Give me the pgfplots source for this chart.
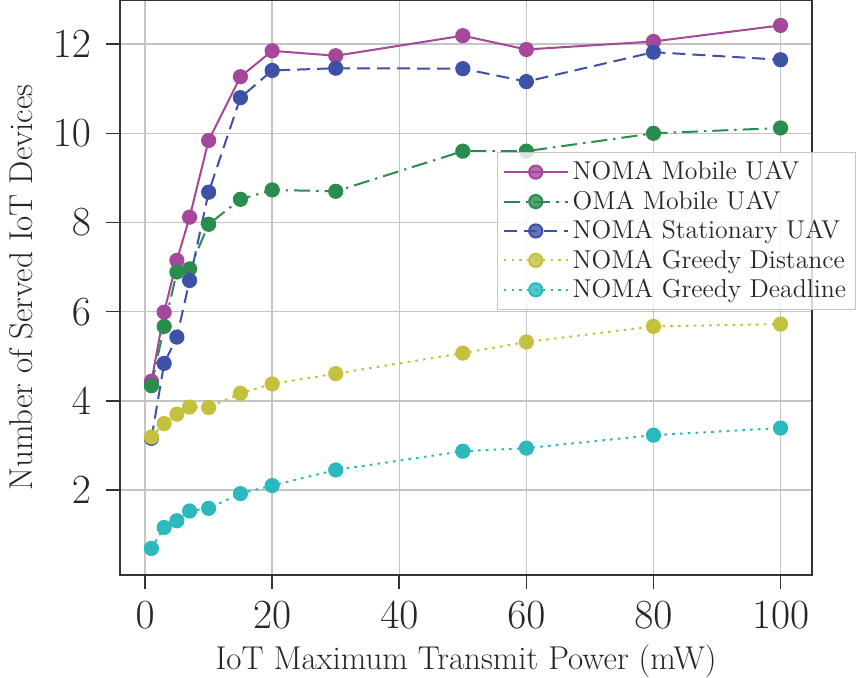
\documentclass[border=0pt]{standalone}
\usepackage{pgfplots}
\pgfplotsset{compat=1.18}
\definecolor{cpurple}{HTML}{A5489B}
\definecolor{cgreen}{HTML}{2A8C4D}
\definecolor{cblue}{HTML}{3D51A6}
\definecolor{cyellow}{HTML}{C4C13E}
\definecolor{ccyan}{HTML}{2CB9BE}
\definecolor{spine}{HTML}{333333}
\definecolor{gridc}{HTML}{C4C4C4}

\pgfplotstableread{
x  nmob  omob  nsta  gdis  gdead
1   4.44  4.34  3.16  3.19  0.69
3   5.99  5.67  4.84  3.49  1.16
5   7.15  6.89  5.43  3.70  1.31
7   8.12  6.96  6.70  3.86  1.53
10  9.84  7.96  8.68  3.85  1.59
15  11.27 8.52  10.80 4.17  1.92
20  11.85 8.73  11.41 4.38  2.10
30  11.74 8.70  11.46 4.61  2.45
50  12.19 9.60  11.45 5.07  2.87
60  11.88 9.60  11.16 5.32  2.94
80  12.06 10.00 11.82 5.67  3.23
100 12.42 10.12 11.65 5.72  3.39
}\datatable

\begin{document}
\begin{tikzpicture}
\begin{axis}[
  scale only axis, width=346pt, height=287.5pt,
  xmin=-3.95, xmax=104.95, ymin=0.094, ymax=12.99,
  xtick={0,20,...,100}, ytick={2,4,...,12},
  xtick pos=left, ytick pos=left,
  grid=major, grid style={line width=0.7pt, color=gridc},
  axis line style={line width=0.8pt, color=spine},
  tick align=outside, major tick length=7pt,
  tick style={line width=0.8pt, color=spine},
  ticklabel style={font=\fontsize{22}{26}\selectfont, text=black!85},
  yticklabel style={xshift=-4pt},
  xticklabel style={yshift=-3pt},
  label style={font=\fontsize{16.5}{19}\selectfont, text=black!85},
  xlabel style={yshift=-1pt},
  ylabel style={yshift=3pt},
  xlabel={IoT Maximum Transmit Power (mW)},
  ylabel={Number of Served IoT Devices},
  legend cell align=left,
  legend style={at={(0.545,0.736)}, anchor=north west, draw=gridc, line width=0.6pt,
    fill=white, fill opacity=0.8, text opacity=1,
    font=\fontsize{12.9}{15}\selectfont, text=black!85,
    row sep=0pt, inner sep=2.5pt},
  legend image code/.code={\draw[mark repeat=2, mark phase=2] plot coordinates {(0pt,0pt)(16pt,0pt)(32pt,0pt)};},
  every axis plot/.append style={line width=1pt},
]
\coordinate (o) at (rel axis cs:0,0);
\addplot[color=cpurple, solid, mark=*, mark size=3.3pt, mark options={solid, fill=cpurple}] table[x=x,y=nmob]{\datatable};
\addlegendentry{NOMA Mobile UAV}
\addplot[color=cgreen, dash pattern=on 8pt off 3pt on 1.2pt off 3pt, mark=*, mark size=3.3pt, mark options={solid, fill=cgreen}] table[x=x,y=omob]{\datatable};
\addlegendentry{OMA Mobile UAV}
\addplot[color=cblue, dash pattern=on 6.5pt off 3.5pt, mark=*, mark size=3.3pt, mark options={solid, fill=cblue}] table[x=x,y=nsta]{\datatable};
\addlegendentry{NOMA Stationary UAV}
\addplot[color=cyellow, dash pattern=on 1.3pt off 2.6pt, mark=*, mark size=3.3pt, mark options={solid, fill=cyellow}] table[x=x,y=gdis]{\datatable};
\addlegendentry{NOMA Greedy Distance}
\addplot[color=ccyan, dash pattern=on 1.3pt off 2.6pt, mark=*, mark size=3.3pt, mark options={solid, fill=ccyan}] table[x=x,y=gdead]{\datatable};
\addlegendentry{NOMA Greedy Deadline}
\end{axis}
\pgfresetboundingbox
\path (o) ++(-60pt,-51pt) rectangle ++(428.5pt,338.5pt);
\end{tikzpicture}
\end{document}
